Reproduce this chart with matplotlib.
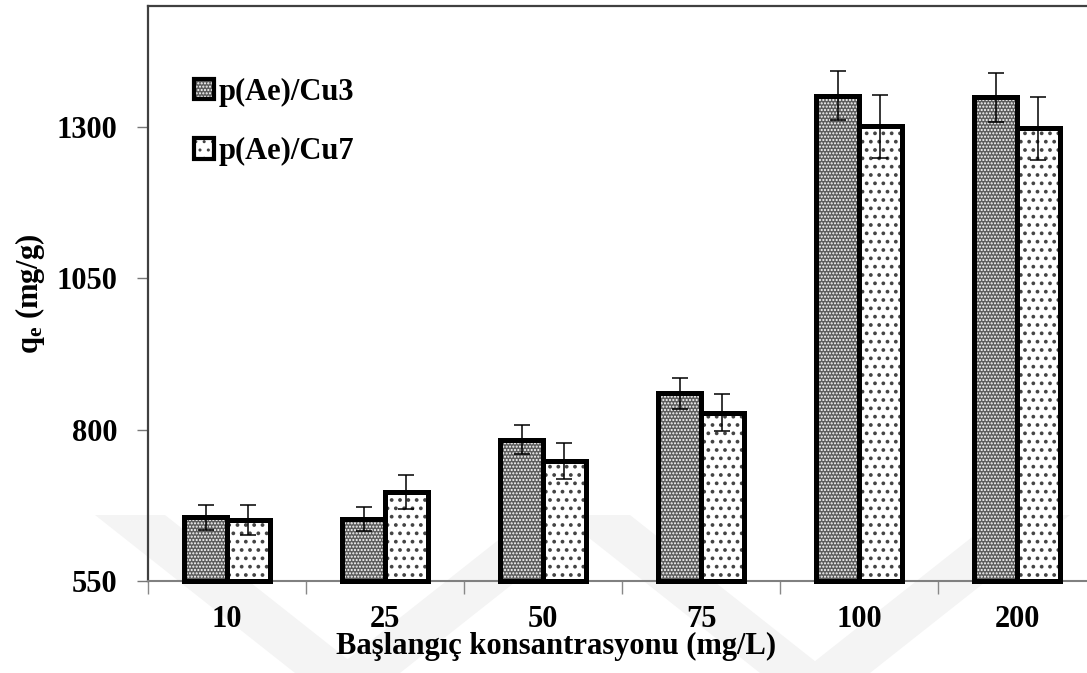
import matplotlib
matplotlib.use("Agg")
import matplotlib.pyplot as plt
import matplotlib.patches as mpatches
from matplotlib.legend_handler import HandlerTuple
import numpy as np

# concentration groups and adsorption capacities
concentrations = ['10', '25', '50', '75', '100', '200']
cu3_qe = [655, 653, 783, 860, 1352, 1349]
cu3_err = [21, 20, 24, 26, 41, 40]
cu7_qe = [651, 697, 748, 828, 1301, 1298]
cu7_err = [25, 28, 30, 31, 52, 52]
series_labels = ['p(Ae)/Cu3', 'p(Ae)/Cu7']
y_ticks = [550, 800, 1050, 1300]

plt.rcParams['font.family'] = ['Liberation Serif', 'DejaVu Serif']
plt.rcParams['font.weight'] = 'bold'
plt.rcParams['mathtext.fontset'] = 'custom'
plt.rcParams['mathtext.rm'] = 'Liberation Serif:bold'
plt.rcParams['mathtext.bf'] = 'Liberation Serif:bold'
plt.rcParams['mathtext.it'] = 'Liberation Serif:bold'

fs = 22
fig = plt.figure(figsize=(10.87, 6.73), dpi=100)

# faint background watermark strokes (figure pixel coords)
W, H = 1087.0, 673.0
strokes = [
    [(95, 515), (165, 515), (365, 673), (295, 673)],
    [(330, 673), (400, 673), (600, 515), (530, 515)],
    [(560, 515), (630, 515), (830, 673), (760, 673)],
    [(800, 673), (870, 673), (1070, 515), (1000, 515)],
]
for pts in strokes:
    poly = mpatches.Polygon([(x / W, 1 - y / H) for x, y in pts], closed=True,
                            transform=fig.transFigure, facecolor='#f4f4f4',
                            edgecolor='none', zorder=-5)
    fig.patches.append(poly)

ax = fig.add_axes([148 / W, 92 / H, 948 / W, 575 / H])
ax.set_facecolor('none')
ax.set_zorder(1)

x = np.arange(len(concentrations))
w = 0.27
styles = [
    dict(face='#5c5c5c', dots='white', hatch='.....', hlw=1.0),
    dict(face='white', dots='#444444', hatch='..', hlw=1.5),
]
series = [(cu3_qe, cu3_err), (cu7_qe, cu7_err)]
handles = []
for i, ((vals, errs), st) in enumerate(zip(series, styles)):
    pos = x + (i - 0.5) * w
    with plt.rc_context({'hatch.linewidth': st['hlw']}):
        ax.bar(pos, np.array(vals) - 550, w, bottom=550, color=st['face'],
               edgecolor=st['dots'], linewidth=0, hatch=st['hatch'], zorder=2)
        fill = mpatches.Patch(facecolor=st['face'], edgecolor=st['dots'],
                              hatch=st['hatch'], linewidth=0)
    ax.bar(pos, np.array(vals) - 550, w, bottom=550, fill=False,
           edgecolor='black', linewidth=3.6, zorder=3, clip_on=False)
    ax.errorbar(pos, vals, yerr=errs, fmt='none', ecolor='black',
                elinewidth=1.1, capsize=6, capthick=1.1, zorder=4)
    border = mpatches.Patch(fill=False, edgecolor='black', linewidth=3)
    handles.append((fill, border))

ax.set_xlim(-0.5, len(concentrations) - 0.5)
ax.set_ylim(550, 1500)
ax.set_yticks(y_ticks)
ax.set_xticks(x)
ax.set_xticklabels(concentrations)
ax.set_xticks(np.arange(-0.5, len(concentrations)), minor=True)
ax.tick_params(axis='x', which='major', length=0, pad=17, labelsize=fs)
ax.tick_params(axis='x', which='minor', length=9, width=1, color='#888888',
               direction='out')
ax.tick_params(axis='y', length=8, width=1, color='#777777', pad=14,
               labelsize=fs)

for side in ['left', 'top']:
    ax.spines[side].set_color('#404040')
    ax.spines[side].set_linewidth(1.6)
ax.spines['bottom'].set_color('#808080')
ax.spines['bottom'].set_linewidth(1.5)
ax.spines['right'].set_visible(False)

ax.set_xlabel('Başlangıç konsantrasyonu (mg/L)', fontsize=fs,
              fontweight='bold')
ax.xaxis.set_label_coords(0.43, -0.113)
ax.xaxis.label.set_va('center')
ax.set_ylabel(r'q$_\mathregular{e}$ (mg/g)', fontsize=fs, fontweight='bold')
ax.yaxis.set_label_coords(-0.1245, 0.5)
ax.yaxis.label.set_va('center')

ax.legend(handles, series_labels, handler_map={tuple: HandlerTuple(ndivide=1)},
          loc='upper left', bbox_to_anchor=(0.036, 0.897), frameon=False,
          fontsize=fs, handlelength=0.65, handleheight=0.65,
          handletextpad=0.15, labelspacing=1.0, borderaxespad=0)

fig.savefig('out.png', dpi=100)
